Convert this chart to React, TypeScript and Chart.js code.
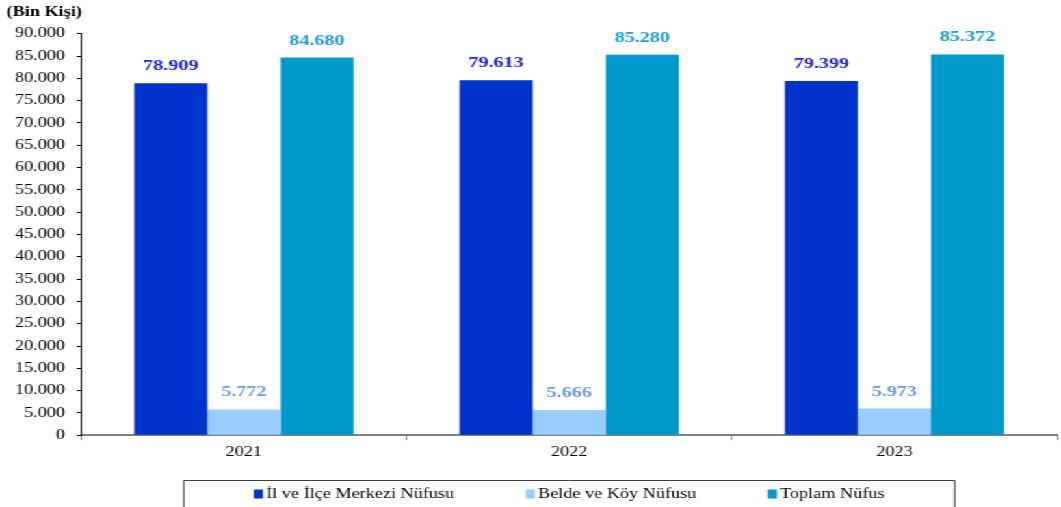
import React, { useEffect, useRef } from "react";
import { Chart, registerables } from "chart.js";

Chart.register(...registerables);

const categories = ["2021", "2022", "2023"];
const merkezValues = [78909, 79613, 79399];
const beldeValues = [5772, 5666, 5973];
const toplamValues = [84680, 85280, 85372];
const seriesNames = ["İl ve İlçe Merkezi Nüfusu", "Belde ve Köy Nüfusu", "Toplam Nüfus"];
const unitLabel = "(Bin Kişi)";

const barColors = ["#0033CC", "#99CCFF", "#0099CC"];
const labelColors = ["#2222EE", "#6B9BE0", "#1BA0CF"];

// The reference is rendered horizontally stretched; draw at a narrower
// internal width and stretch the canvas to the full page width.
const PAGE_W = 1061;
const PAGE_H = 507;
const INNER_W = 816;
const STRETCH = PAGE_W / INNER_W;

const fmt = (v: number) => {
  const s = Math.round(v).toString();
  return s.replace(/\B(?=(\d{3})+(?!\d))/g, ".");
};

const FONT = "'Liberation Serif', 'Times New Roman', serif";

const dataLabelPlugin = {
  id: "dataLabels",
  afterDatasetsDraw(chart: any) {
    const ctx = chart.ctx;
    ctx.save();
    ctx.font = `bold 15.5px ${FONT}`;
    ctx.textAlign = "center";
    ctx.textBaseline = "alphabetic";
    chart.data.datasets.forEach((ds: any, i: number) => {
      const meta = chart.getDatasetMeta(i);
      meta.data.forEach((bar: any, j: number) => {
        ctx.fillStyle = labelColors[i];
        ctx.fillText(fmt(ds.data[j]), bar.x, bar.y - 13);
      });
    });
    ctx.restore();
  },
};

const customLegendPlugin = {
  id: "customLegend",
  afterDraw(chart: any) {
    const ctx = chart.ctx;
    const ca = chart.chartArea;
    ctx.save();
    ctx.font = `14px ${FONT}`;
    const sqW = 7;
    const sqH = 9;
    const gapText = 2.5;
    const gapItem = 55;
    const widths = seriesNames.map((n) => ctx.measureText(n).width);
    const total =
      widths.reduce((a, w) => a + sqW + gapText + w, 0) + gapItem * (seriesNames.length - 1);
    const cx = (ca.left + ca.right) / 2;
    const y = chart.height - 13;
    let x = cx - total / 2;
    ctx.textBaseline = "middle";
    ctx.textAlign = "left";
    seriesNames.forEach((name, i) => {
      ctx.fillStyle = barColors[i];
      ctx.fillRect(x, y - sqH / 2, sqW, sqH);
      x += sqW + gapText;
      ctx.fillStyle = "#000";
      ctx.fillText(name, x, y + 0.5);
      x += widths[i] + gapItem;
    });
    // legend frame
    const halfW = 296.5;
    const top = chart.height - 27 + 0.5;
    ctx.strokeStyle = "#404040";
    ctx.lineWidth = 1;
    ctx.beginPath();
    ctx.moveTo(cx - halfW, chart.height + 2);
    ctx.lineTo(cx - halfW, top);
    ctx.lineTo(cx + halfW, top);
    ctx.lineTo(cx + halfW, chart.height + 2);
    ctx.stroke();
    ctx.restore();
  },
};

export default function App() {
  const ref = useRef<HTMLCanvasElement>(null);
  useEffect(() => {
    if (!ref.current) return;
    const chart = new Chart(ref.current, {
      type: "bar",
      data: {
        labels: categories,
        datasets: [
          { label: seriesNames[0], data: merkezValues, backgroundColor: barColors[0] },
          { label: seriesNames[1], data: beldeValues, backgroundColor: barColors[1] },
          { label: seriesNames[2], data: toplamValues, backgroundColor: barColors[2] },
        ],
      },
      options: {
        animation: false,
        responsive: true,
        maintainAspectRatio: false,
        layout: { padding: { left: 5, right: 3, top: 0, bottom: 42 } },
        datasets: { bar: { categoryPercentage: 0.674, barPercentage: 1.0 } },
        plugins: {
          title: {
            display: true,
            text: unitLabel,
            align: "start",
            color: "#000",
            font: { family: FONT, size: 14, weight: "bold", lineHeight: 1.2 },
            padding: { top: 4, bottom: 13 },
          },
          legend: { display: false },
          tooltip: { enabled: false },
        },
        scales: {
          x: {
            offset: true,
            grid: {
              display: true,
              offset: true,
              drawOnChartArea: false,
              drawTicks: true,
              tickLength: 5,
              color: "#808080",
            },
            border: { display: true, color: "#808080", width: 2 },
            ticks: { color: "#000", font: { family: FONT, size: 14 }, padding: 4 },
          },
          y: {
            min: 0,
            max: 90000,
            afterFit: (s: any) => {
              s.width = 57.5;
            },
            grid: {
              display: true,
              drawOnChartArea: false,
              drawTicks: true,
              tickLength: 3.5,
              color: "#000",
            },
            border: { display: true, color: "#000", width: 1 },
            ticks: {
              stepSize: 5000,
              color: "#000",
              font: { family: FONT, size: 14 },
              padding: 9,
              callback: (v: any) => fmt(Number(v)),
            },
          },
        },
      },
      plugins: [dataLabelPlugin, customLegendPlugin],
    });
    return () => chart.destroy();
  }, []);
  return (
    <div
      style={{
        position: "fixed",
        left: 0,
        top: 0,
        width: INNER_W,
        height: PAGE_H,
        background: "#fff",
        transform: `scaleX(${STRETCH})`,
        transformOrigin: "0 0",
      }}
    >
      <canvas ref={ref} />
    </div>
  );
}
